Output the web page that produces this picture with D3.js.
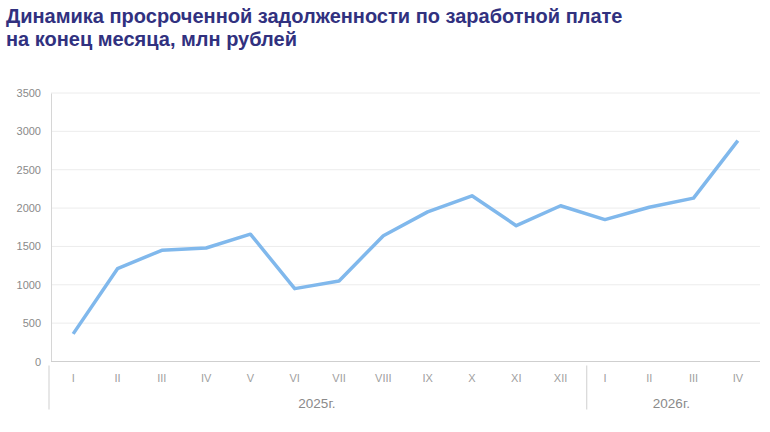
<!DOCTYPE html>
<html>
<head>
<meta charset="utf-8">
<script src="https://cdn.jsdelivr.net/npm/d3@7"></script>
<style>
  body { margin: 0; background: #fff; }
  svg { display: block; }
</style>
</head>
<body>
<div id="chart"></div>
<script>
// data
const months = ['I', 'II', 'III', 'IV', 'V', 'VI', 'VII', 'VIII', 'IX', 'X', 'XI', 'XII', 'I', 'II', 'III', 'IV'];
const years = [
    { label: '2025г.', from: 0, to: 12 },
    { label: '2026г.', from: 12, to: 16 }
];
const arrears = [360, 1210, 1450, 1480, 1660, 950, 1050, 1640, 1950, 2160, 1770, 2030, 1850, 2010, 2130, 2880];
const yTicks = [0, 500, 1000, 1500, 2000, 2500, 3000, 3500];
const titleLines = ['Динамика просроченной задолженности по заработной плате', 'на конец месяца, млн рублей'];

const width = 770, height = 432;
const margin = { top: 93, right: 10, bottom: 70, left: 51 };

const svg = d3.select('#chart')
    .append('svg')
    .attr('width', width)
    .attr('height', height);

// title
svg.append('g')
    .selectAll('text')
    .data(titleLines)
    .enter()
    .append('text')
    .attr('x', 6)
    .attr('y', (d, i) => 23 + i * 23)
    .style('font-family', '"Liberation Sans", Arial, sans-serif')
    .style('font-weight', 'bold')
    .style('font-size', '20px')
    .style('fill', '#31317f')
    .text(d => d);

const idx = months.map((d, i) => i);
const x = d3.scaleBand()
    .domain(idx)
    .range([margin.left, width - margin.right]);

const y = d3.scaleLinear()
    .domain([0, 3500])
    .range([height - margin.bottom - 0.5, margin.top]);

// gridlines
svg.append('g')
    .selectAll('line')
    .data(yTicks.slice(1))
    .enter()
    .append('line')
    .attr('x1', margin.left)
    .attr('x2', width - margin.right)
    .attr('y1', d => y(d))
    .attr('y2', d => y(d))
    .attr('stroke', '#ececec')
    .attr('stroke-width', 1);

// y axis
const yAxis = svg.append('g')
    .attr('transform', `translate(${margin.left},0)`)
    .call(d3.axisLeft(y).tickValues(yTicks).tickSize(0).tickPadding(10).tickFormat(d3.format('d')));
yAxis.select('.domain').attr('stroke', '#d6d6d6');
yAxis.selectAll('text')
    .style('font-family', '"Liberation Sans", Arial, sans-serif')
    .style('font-size', '11px')
    .style('fill', '#8a8a8a');

// x baseline
svg.append('line')
    .attr('x1', margin.left)
    .attr('x2', width - margin.right)
    .attr('y1', y(0))
    .attr('y2', y(0))
    .attr('stroke', '#cfcfcf');

// month labels
svg.append('g')
    .selectAll('text')
    .data(months)
    .enter()
    .append('text')
    .attr('x', (d, i) => x(i) + x.bandwidth() / 2)
    .attr('y', y(0) + 20)
    .attr('text-anchor', 'middle')
    .style('font-family', '"Liberation Sans Narrow", "Arial Narrow", sans-serif')
    .style('font-size', '11px')
    .style('fill', '#a0a0a0')
    .text(d => d);

// year separators
const seps = [years[0].from, years[1].from];
svg.append('g')
    .selectAll('line')
    .data(seps)
    .enter()
    .append('line')
    .attr('x1', d => x(d) - (d === 0 ? 2 : -4))
    .attr('x2', d => x(d) - (d === 0 ? 2 : -4))
    .attr('y1', y(0) + 4)
    .attr('y2', y(0) + 48)
    .attr('stroke', '#cfcfcf');

// year labels
svg.append('g')
    .selectAll('text')
    .data(years)
    .enter()
    .append('text')
    .attr('x', d => (x(d.from) + x(d.to - 1) + x.bandwidth()) / 2)
    .attr('y', y(0) + 46)
    .attr('text-anchor', 'middle')
    .style('font-family', '"Liberation Sans Narrow", "Arial Narrow", sans-serif')
    .style('font-size', '13.5px')
    .style('fill', '#8a8a8a')
    .text(d => d.label);

// line
const line = d3.line()
    .x((d, i) => x(i) + x.bandwidth() / 2)
    .y(d => y(d));

svg.append('path')
    .datum(arrears)
    .attr('d', line)
    .attr('fill', 'none')
    .attr('stroke', '#80b8ec')
    .attr('stroke-width', 3.5)
    .attr('stroke-linejoin', 'round');
</script>
</body>
</html>
